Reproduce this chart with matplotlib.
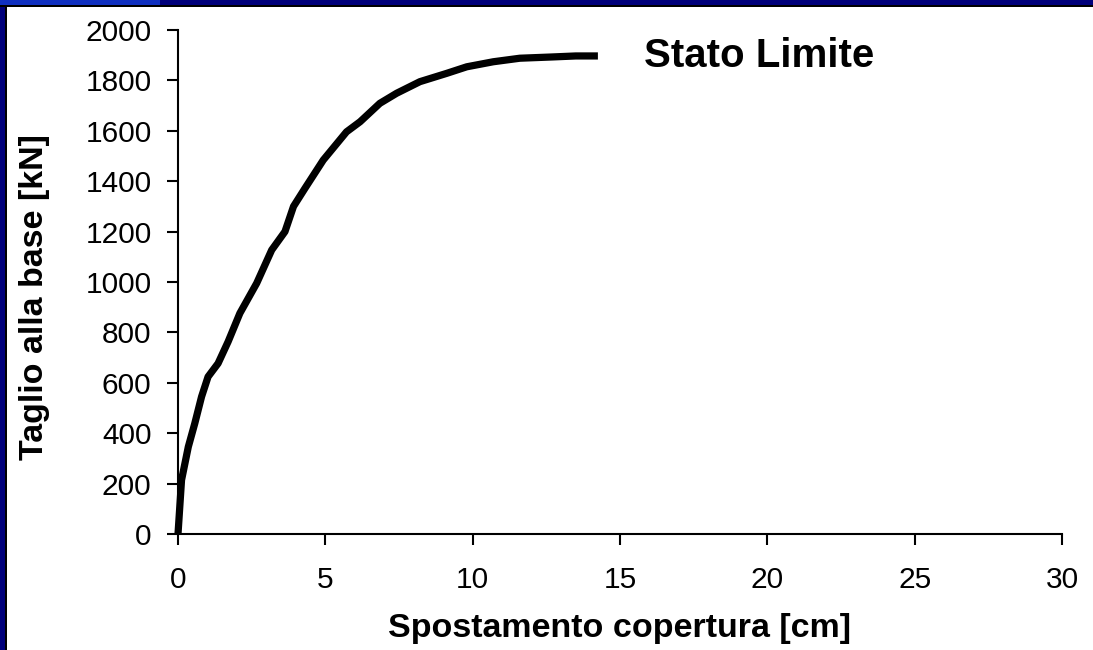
import matplotlib
matplotlib.use("Agg")
import matplotlib.pyplot as plt
from matplotlib.patches import Rectangle

# pushover curve
spostamento = [0, 0.12, 0.35, 0.57, 0.80, 1.02, 1.36, 1.70, 2.10, 2.67, 3.18, 3.63, 3.92,
               4.31, 4.93, 5.72, 6.18, 6.85, 7.42, 8.21, 9.12, 9.80, 10.70, 11.6, 12.7,
               13.5, 14.25]
taglio = [0, 214, 346, 439, 545, 624, 677, 763, 876, 995, 1127, 1200, 1300,
          1372, 1484, 1596, 1636, 1709, 1749, 1795, 1828, 1854, 1874, 1888, 1893,
          1897, 1897]

x_ticks = [0, 5, 10, 15, 20, 25, 30]
y_ticks = list(range(0, 2001, 200))

plt.rcParams['font.family'] = ['Liberation Sans', 'DejaVu Sans']

fig = plt.figure(figsize=(10.93, 6.5), dpi=100)
fig.patch.set_facecolor('white')

# slide frame: navy band with thin black edge on left and top
fig.patches.append(Rectangle((0, 0), 7 / 1093, 1, transform=fig.transFigure,
                             facecolor='black', edgecolor='none', zorder=-1))
fig.patches.append(Rectangle((0, 0), 5 / 1093, 1, transform=fig.transFigure,
                             facecolor='#00007a', edgecolor='none', zorder=-1))
fig.patches.append(Rectangle((0, 1 - 7 / 650), 1, 7 / 650, transform=fig.transFigure,
                             facecolor='black', edgecolor='none', zorder=-1))
fig.patches.append(Rectangle((0, 1 - 5 / 650), 1, 5 / 650, transform=fig.transFigure,
                             facecolor='#00007a', edgecolor='none', zorder=-1))
fig.patches.append(Rectangle((0, 1 - 5 / 650), 160 / 1093, 5 / 650, transform=fig.transFigure,
                             facecolor='#1030c0', edgecolor='none', zorder=-1))

ax = fig.add_axes([178 / 1093, 1 - 534 / 650, (1062 - 178) / 1093, (534 - 30) / 650])
ax.plot(spostamento, taglio, color='black', lw=5.2, solid_joinstyle='round',
        solid_capstyle='butt', clip_on=False)

ax.set_xlim(0, 30)
ax.set_ylim(0, 2000)
ax.set_xticks(x_ticks)
ax.set_yticks(y_ticks)
for s in ['top', 'right']:
    ax.spines[s].set_visible(False)
for s in ['left', 'bottom']:
    ax.spines[s].set_linewidth(1.5)
ax.tick_params(direction='out', length=8, width=1.5, labelsize=21.5)
ax.tick_params(axis='y', pad=11)
ax.tick_params(axis='x', pad=15)

ax.set_xlabel('Spostamento copertura [cm]', fontsize=24.5, fontweight='bold', labelpad=14)
ax.set_ylabel('Taglio alla base [kN]', fontsize=24.5, fontweight='bold')
ax.yaxis.set_label_coords(-0.145, 0.47)

ax.text(15.8, 1898, 'Stato Limite', fontsize=29, fontweight='bold', va='center', ha='left')

fig.savefig('out.png', dpi=100)
